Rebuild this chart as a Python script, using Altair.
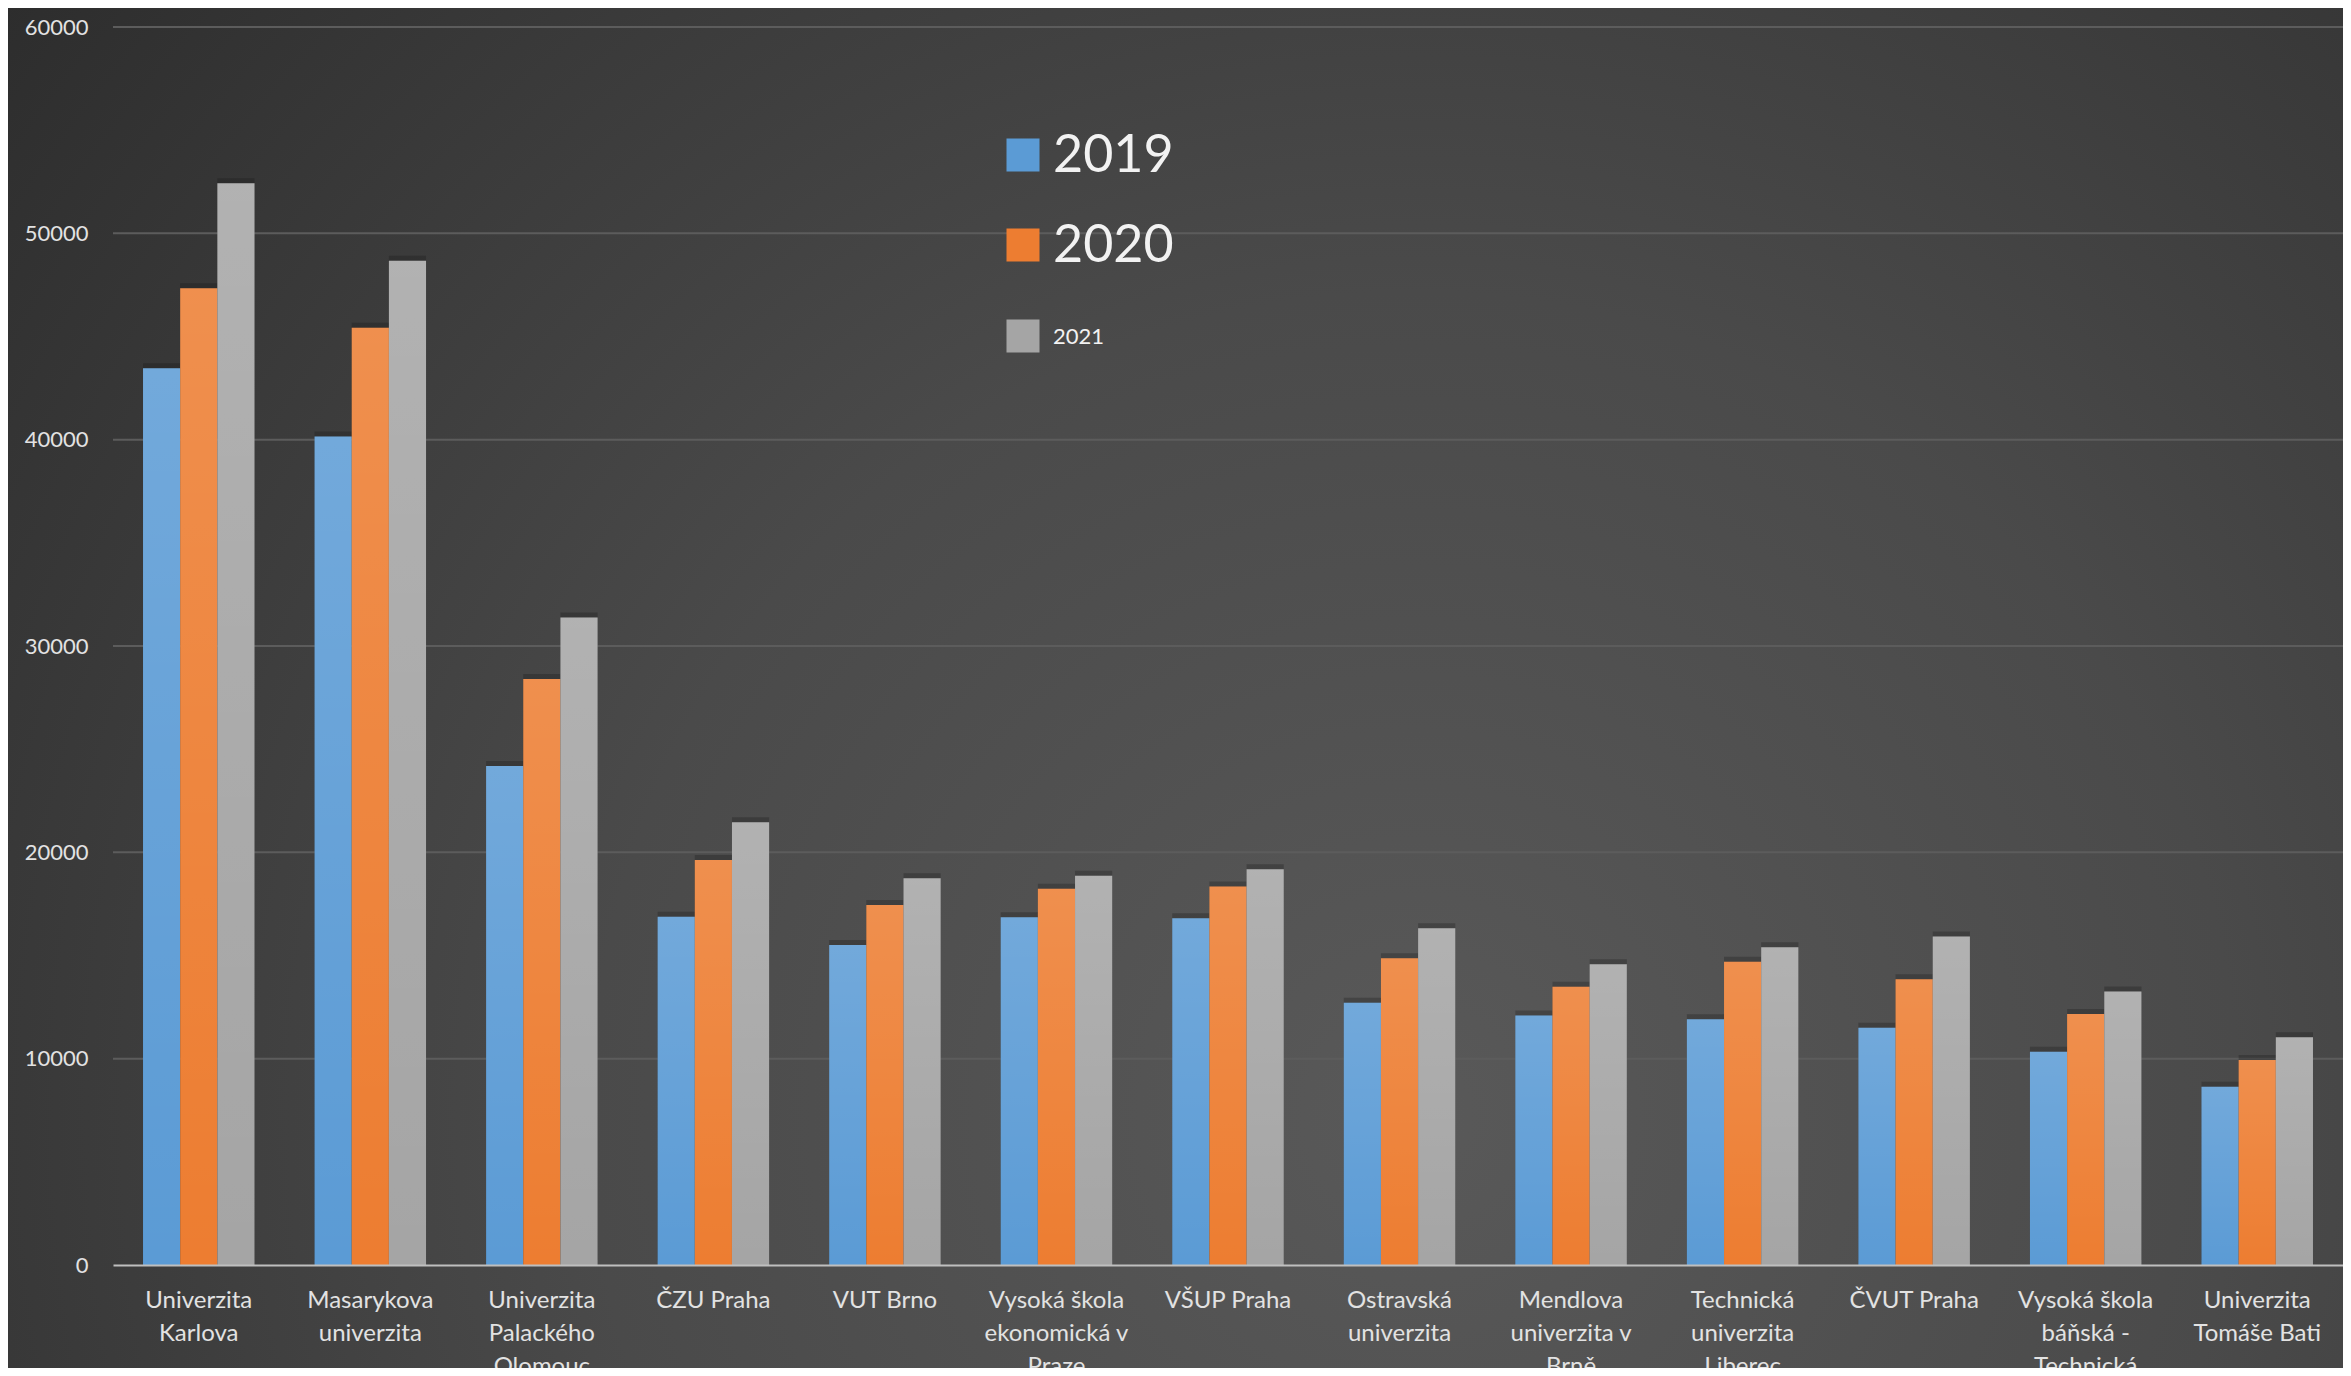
import altair as alt
import pandas as pd

# ---- data ----
categories = [
    "Univerzita|Karlova",
    "Masarykova|univerzita",
    "Univerzita|Palackého|Olomouc",
    "ČZU Praha",
    "VUT Brno",
    "Vysoká škola|ekonomická v|Praze",
    "VŠUP Praha",
    "Ostravská|univerzita",
    "Mendlova|univerzita v|Brně",
    "Technická|univerzita|Liberec",
    "ČVUT Praha",
    "Vysoká škola|báňská -|Technická|univerzita Ostrava",
    "Univerzita|Tomáše Bati",
]
years = ["2019", "2020", "2021"]
v2019 = [43460, 40150, 24190, 16880, 15510, 16850, 16800, 12710, 12090, 11910, 11500, 10340, 8640]
v2020 = [47340, 45430, 28400, 19630, 17450, 18240, 18340, 14870, 13490, 14700, 13850, 12170, 9940]
v2021 = [52430, 48670, 31380, 21460, 18740, 18870, 19180, 16320, 14570, 15400, 15920, 13250, 11040]
y_ticks = [0, 10000, 20000, 30000, 40000, 50000, 60000]
colors = ["#5b9bd5", "#ed7d31", "#a5a5a5"]

rows = []
for i, c in enumerate(categories):
    for yr, vals in zip(years, [v2019, v2020, v2021]):
        rows.append({"school": c, "year": yr, "students": vals[i]})
df = pd.DataFrame(rows)
grid_df = pd.DataFrame({"v": y_ticks[1:]})

W, H = 2230, 1238
PAD = {"left": 105, "top": 19, "right": 0, "bottom": 103}
FONT = "Lato"

x_axis = alt.Axis(
    title=None, labelExpr="split(datum.label, '|')", labelAngle=0,
    labelFontSize=24, labelLineHeight=33, labelColor="#e2e2e2", labelFont=FONT,
    ticks=False, domainColor="#bfbfbf", domainWidth=2, labelPadding=23,
    labelOverlap=False, labelLimit=400, zindex=1,
)
y_axis = alt.Axis(
    title=None, values=y_ticks, format="d", grid=False, domain=False, ticks=False,
    labelFontSize=22, labelColor="#e2e2e2", labelFont=FONT, labelPadding=25, zindex=1,
)
y_scale = alt.Scale(domain=[0, 60000], nice=False, zero=True)
x_enc = alt.X("school:N", sort=categories, axis=x_axis,
              scale=alt.Scale(paddingInner=0.35, paddingOuter=0.175))
xo_enc = alt.XOffset("year:N", sort=years, scale=alt.Scale(domain=years, paddingInner=0, paddingOuter=0))

# background radial gradient covering the whole canvas
bg = alt.Chart(alt.Data(values=[{"a": 1}])).mark_rect(
    fill=alt.RadialGradient(
        gradient="radial", x1=0.6, y1=0.68, r1=0, x2=0.6, y2=0.68, r2=0.78,
        stops=[alt.GradientStop(color="#595959", offset=0),
               alt.GradientStop(color="#4a4a4a", offset=0.45),
               alt.GradientStop(color="#2c2c2c", offset=1)],
    )
).encode(x=alt.value(-PAD["left"]), x2=alt.value(W + 10),
         y=alt.value(-PAD["top"]), y2=alt.value(H + PAD["bottom"] + 10))

grid = alt.Chart(grid_df).mark_rule(color="#5c5c5c", strokeWidth=2).encode(
    y=alt.Y("v:Q", scale=y_scale, axis=y_axis)
)

shadow = alt.Chart(df).mark_bar(color="#151515", opacity=0.28, xOffset=-4, yOffset=-5).encode(
    x=x_enc, xOffset=xo_enc,
    y=alt.Y("students:Q", scale=y_scale, axis=y_axis),
)

bars = alt.Chart(df).mark_bar(opacity=1).encode(
    x=x_enc, xOffset=xo_enc,
    y=alt.Y("students:Q", scale=y_scale, axis=y_axis),
    color=alt.Color("year:N", scale=alt.Scale(domain=years, range=colors), legend=None),
)

shine = alt.Chart(df).mark_bar(
    fill=alt.LinearGradient(
        gradient="linear", x1=0, y1=0, x2=0, y2=1,
        stops=[alt.GradientStop(color="rgba(255,255,255,0.14)", offset=0),
               alt.GradientStop(color="rgba(255,255,255,0)", offset=1)],
    )
).encode(
    x=x_enc, xOffset=xo_enc,
    y=alt.Y("students:Q", scale=y_scale, axis=y_axis),
)

# manual legend (entries have different font sizes in the reference)
leg_x = 910
leg_y = [128, 218, 309]
leg_fs = [52, 52, 22]
legend_layers = []
for i, yr in enumerate(years):
    legend_layers.append(
        alt.Chart(alt.Data(values=[{"a": 1}])).mark_square(
            size=1089, color=colors[i], opacity=1
        ).encode(x=alt.value(leg_x), y=alt.value(leg_y[i]))
    )
    legend_layers.append(
        alt.Chart(alt.Data(values=[{"a": 1}])).mark_text(
            text=yr, align="left", baseline="middle", fontSize=leg_fs[i],
            color="#f2f2f2", font=FONT
        ).encode(x=alt.value(leg_x + 30), y=alt.value(leg_y[i] + 1))
    )

chart = alt.layer(bg, grid, shadow, bars, shine, *legend_layers).properties(
    width=W, height=H, padding=PAD,
    autosize=alt.AutoSizeParams(type="none"),
    background="#3a3a3a",
).configure_view(stroke=None)

chart.save("out.html", embed_options={"renderer": "svg", "actions": False})
